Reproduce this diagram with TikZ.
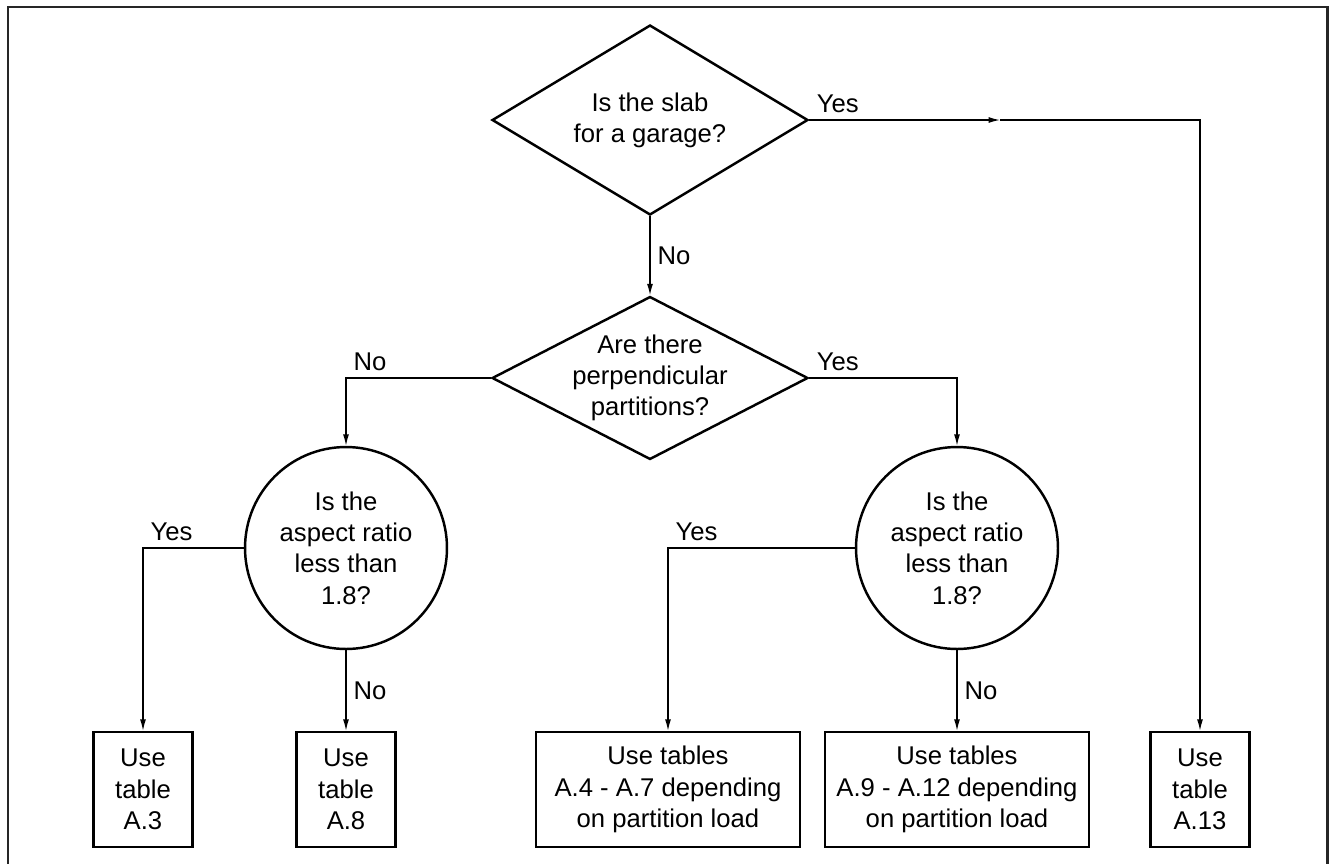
\documentclass[tikz,border=0pt]{standalone}
\usepackage{fontspec}
\setmainfont{Liberation Sans}
\usetikzlibrary{shapes.geometric,arrows.meta}
\begin{document}
\begin{tikzpicture}[x=0.02cm,y=-0.02cm,
  every node/.style={font=\fontsize{14.6}{17.8}\selectfont},
  dq/.style={diamond,draw,line width=1.4pt,inner sep=0pt,shape aspect=1.94,align=center,minimum width=6.32cm,minimum height=3.8cm},
  cq/.style={circle,draw,line width=1.4pt,inner sep=0pt,minimum size=4.04cm,align=center},
  tb/.style={rectangle,draw,line width=1.4pt,inner sep=0pt,minimum height=2.3cm,align=center},
  lb/.style={inner sep=4pt},
  ar/.style={line width=0.75pt,-{Latex[length=6.5pt,width=3.4pt]}}]
  \useasboundingbox (0,0) rectangle (1332,863);
  \draw[line width=1.7pt,black!85] (8,866) -- (8,7) -- (1327,7) -- (1327,866);
  % questions
  \node[dq] (garage) at (650,120) {Is the slab\\for a garage?};
  \node[dq,minimum height=3.26cm,inner sep=-5pt] (parts) at (650,378) {Are there\\perpendicular\\partitions?};
  \node[cq] (ratioL) at (346,548) {Is the\\aspect ratio\\less than\\1.8?};
  \node[cq] (ratioR) at (957,548) {Is the\\aspect ratio\\less than\\1.8?};
  % tables
  \node[tb,minimum width=1.98cm] (tA3) at (143,789.5) {Use\\table\\A.3};
  \node[tb,minimum width=1.98cm] (tA8) at (346,789.5) {Use\\table\\A.8};
  \node[tb,minimum width=5.28cm] (tA4) at (668,789.5) {Use tables\\A.4 - A.7 depending\\on partition load};
  \node[tb,minimum width=5.28cm] (tA9) at (957,789.5) {Use tables\\A.9 - A.12 depending\\on partition load};
  \node[tb,minimum width=1.98cm] (tA13) at (1200,789.5) {Use\\table\\A.13};
  \coordinate (mid) at (1000,120);
  % connectors
  \draw[ar] (garage.east) node[lb,above right]{Yes} -- (mid);
  \draw[ar] (mid) -| (tA13.north);
  \draw[ar] (garage.south) -- node[lb,right]{No} (parts.north);
  \draw[ar] (parts.west) -| node[lb,above right]{No} (ratioL.north);
  \draw[ar] (parts.east) node[lb,above right]{Yes} -| (ratioR.north);
  \draw[ar] (ratioL.west) -| node[lb,above right]{Yes} (tA3.north);
  \draw[ar] (ratioL.south) -- node[lb,right]{No} (tA8.north);
  \draw[ar] (ratioR.west) -| node[lb,above right]{Yes} (tA4.north);
  \draw[ar] (ratioR.south) -- node[lb,right]{No} (tA9.north);
\end{tikzpicture}
\end{document}
